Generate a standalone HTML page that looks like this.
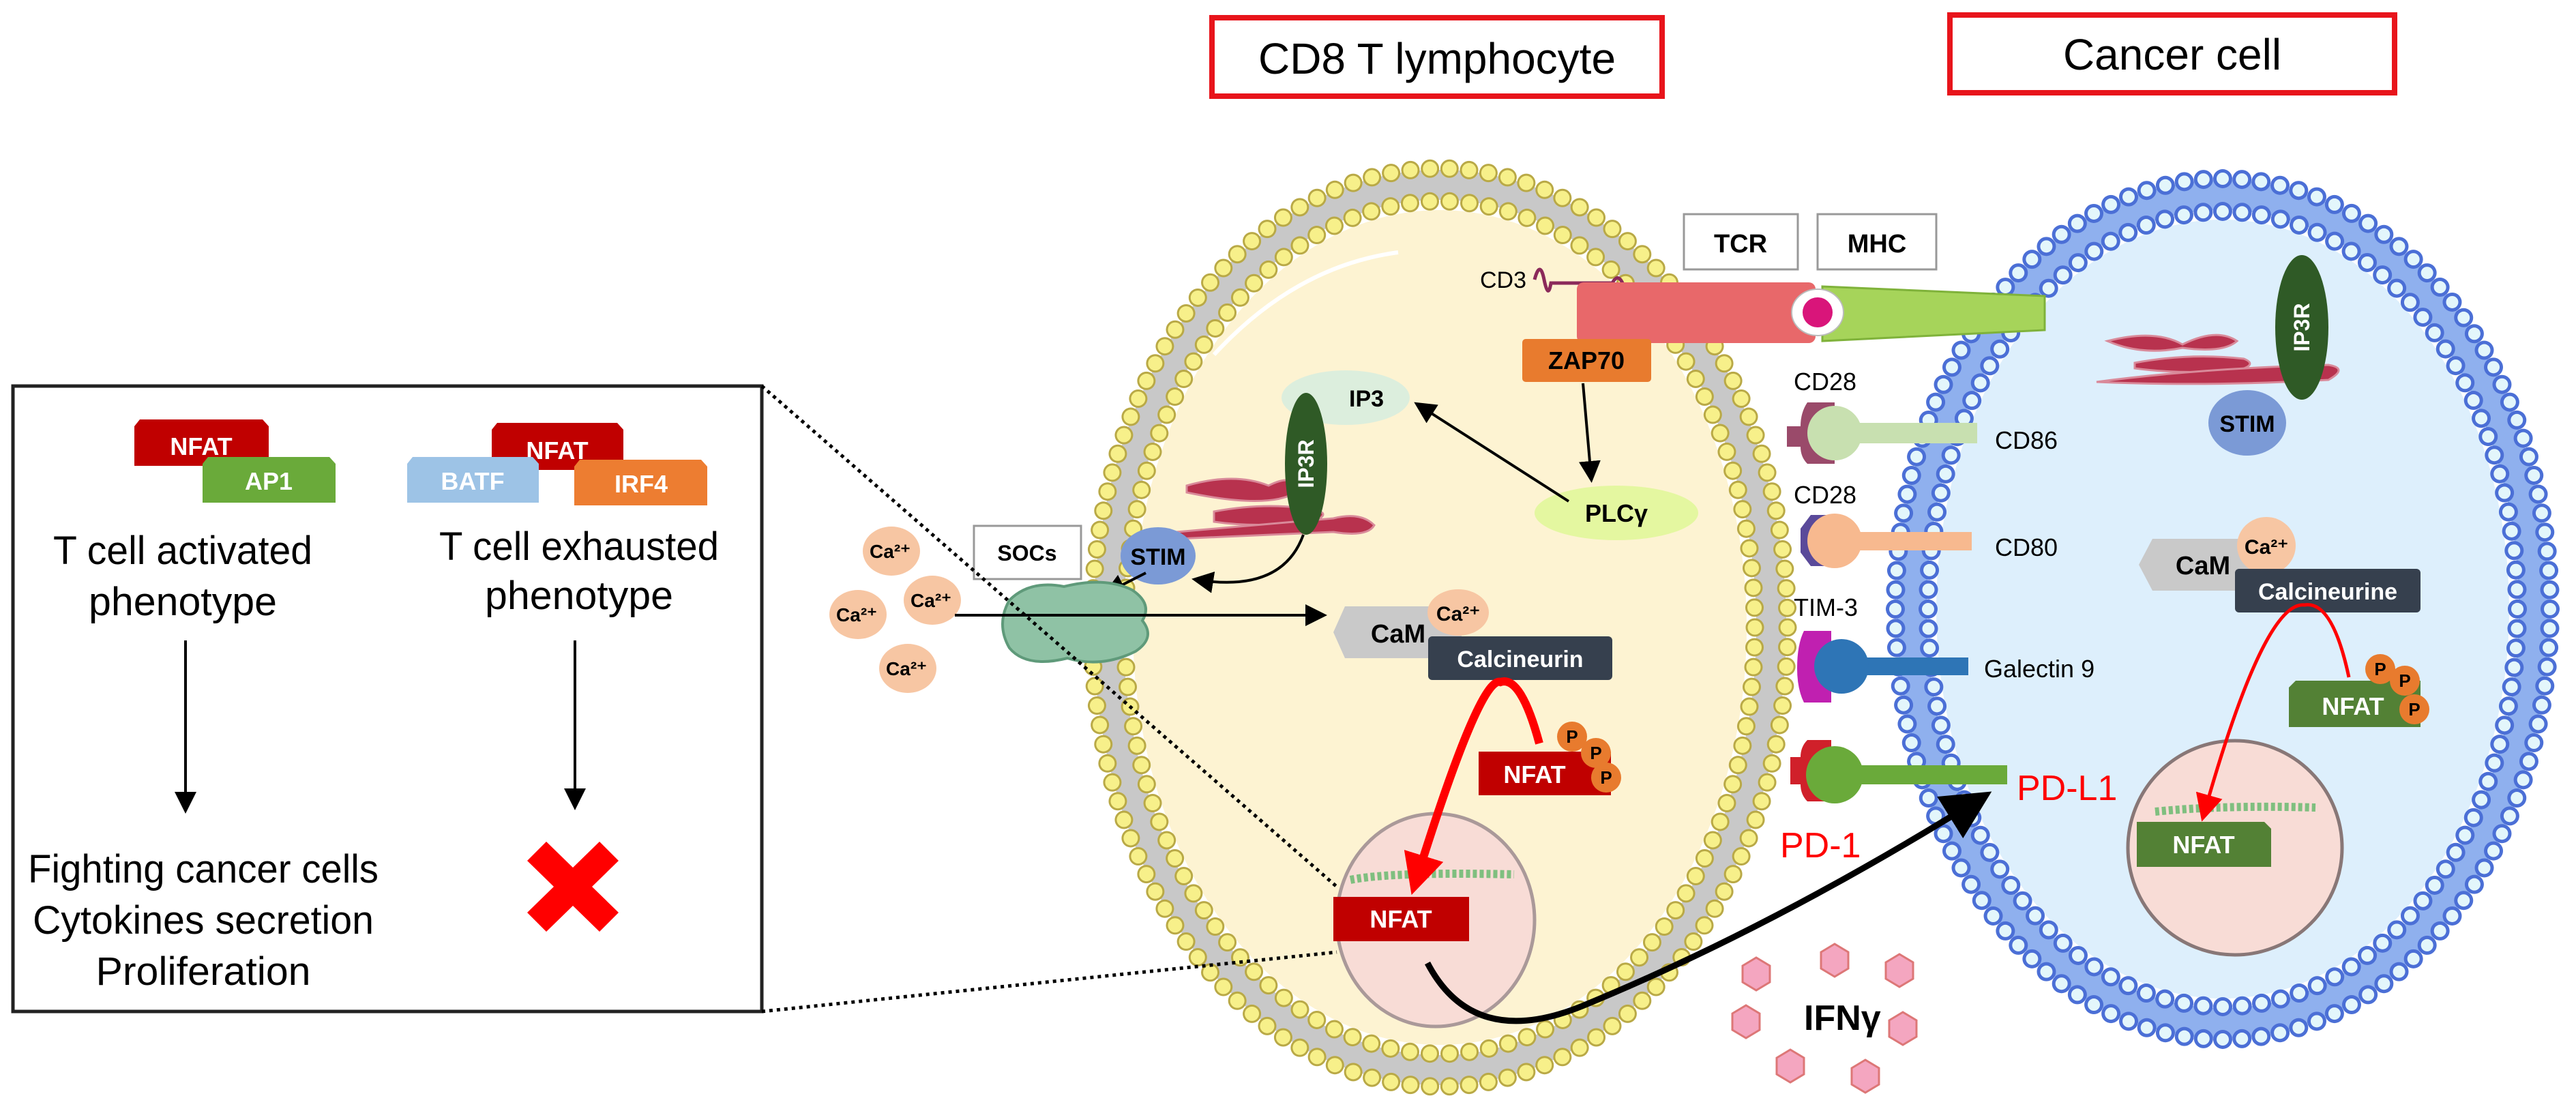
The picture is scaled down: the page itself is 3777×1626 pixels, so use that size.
<!DOCTYPE html>
<html><head><meta charset="utf-8"><style>
html,body{margin:0;padding:0;background:#fff}
svg{display:block}
text{font-family:"Liberation Sans",sans-serif}
</style></head><body>
<svg width="3777" height="1626" viewBox="0 0 3777 1626" xmlns="http://www.w3.org/2000/svg">
<defs>
<marker id="ah" markerWidth="8" markerHeight="8" refX="6" refY="4" orient="auto" markerUnits="strokeWidth"><path d="M0,0 L8,4 L0,8 z" fill="#000"/></marker>
<marker id="ahr" markerWidth="5" markerHeight="5" refX="3.5" refY="2.5" orient="auto" markerUnits="strokeWidth"><path d="M0,0 L5,2.5 L0,5 z" fill="#f00"/></marker>
<marker id="ahr2" markerWidth="8" markerHeight="8" refX="6" refY="4" orient="auto" markerUnits="strokeWidth"><path d="M0,0 L8,4 L0,8 z" fill="#f00"/></marker>
<polygon id="hx" points="-20,-12 0,-24 20,-12 20,12 0,24 -20,12" fill="#f4a6c0" stroke="#d77" stroke-width="3"/>
</defs>

<!-- Titles -->
<rect x="1777" y="26" width="660" height="115" fill="#fff" stroke="#e8141b" stroke-width="8"/>
<text x="2107" y="108" font-size="64" text-anchor="middle">CD8 T lymphocyte</text>
<rect x="2859" y="22" width="652" height="114" fill="#fff" stroke="#e8141b" stroke-width="8"/>
<text x="3185" y="102" font-size="64" text-anchor="middle">Cancer cell</text>

<!-- Left box -->
<rect x="19" y="566" width="1098" height="917" fill="#fff" stroke="#222" stroke-width="5"/>
<path d="M197,625 l8,-10 h180 l9,10 v58 h-197z" fill="#c00000"/>
<text x="295" y="667" font-size="36" font-weight="bold" fill="#fff" text-anchor="middle">NFAT</text>
<path d="M297,680 l8,-10 h178 l9,10 v57 h-195z" fill="#6aaa3a"/>
<text x="394" y="718" font-size="36" font-weight="bold" fill="#fff" text-anchor="middle">AP1</text>
<path d="M721,630 l8,-10 h176 l9,10 v59 h-193z" fill="#c00000"/>
<text x="817" y="673" font-size="36" font-weight="bold" fill="#fff" text-anchor="middle">NFAT</text>
<path d="M597,680 l8,-10 h176 l9,10 v57 h-193z" fill="#9dc3e6"/>
<text x="693" y="718" font-size="36" font-weight="bold" fill="#fff" text-anchor="middle">BATF</text>
<path d="M842,684 l8,-10 h178 l9,10 v57 h-195z" fill="#ed7d31"/>
<text x="940" y="722" font-size="36" font-weight="bold" fill="#fff" text-anchor="middle">IRF4</text>
<text x="268" y="827" font-size="58" text-anchor="middle" textLength="380" lengthAdjust="spacingAndGlyphs">T cell activated</text>
<text x="268" y="902" font-size="58" text-anchor="middle" textLength="276" lengthAdjust="spacingAndGlyphs">phenotype</text>
<text x="849" y="821" font-size="58" text-anchor="middle" textLength="410" lengthAdjust="spacingAndGlyphs">T cell exhausted</text>
<text x="849" y="893" font-size="58" text-anchor="middle" textLength="276" lengthAdjust="spacingAndGlyphs">phenotype</text>
<line x1="272" y1="939" x2="272" y2="1185" stroke="#000" stroke-width="4" marker-end="url(#ah)"/>
<line x1="843" y1="939" x2="843" y2="1180" stroke="#000" stroke-width="4" marker-end="url(#ah)"/>
<text x="298" y="1294" font-size="58" text-anchor="middle" textLength="514" lengthAdjust="spacingAndGlyphs">Fighting cancer cells</text>
<text x="298" y="1369" font-size="58" text-anchor="middle" textLength="500" lengthAdjust="spacingAndGlyphs">Cytokines secretion</text>
<text x="298" y="1444" font-size="58" text-anchor="middle" textLength="315" lengthAdjust="spacingAndGlyphs">Proliferation</text>
<path d="M773,1262 l28,-28 l39,38 l39,-38 l28,28 l-39,38 l39,38 l-28,28 l-39,-38 l-39,38 l-28,-28 l39,-38z" fill="#f00"/>

<!-- T cell -->
<ellipse cx="2111" cy="920" rx="486" ry="649" fill="none" stroke="#c8c8c8" stroke-width="44"/>
<ellipse cx="2111" cy="920" rx="450" ry="612" fill="#fdf3d2"/>
<ellipse cx="2111" cy="920" rx="510" ry="673" fill="none" stroke="#b9a946" stroke-width="27" pathLength="130" stroke-dasharray="0 1" stroke-linecap="round"/>
<ellipse cx="2111" cy="920" rx="510" ry="673" fill="none" stroke="#f7f08a" stroke-width="21" pathLength="130" stroke-dasharray="0 1" stroke-linecap="round"/>
<ellipse cx="2111" cy="920" rx="462" ry="625" fill="none" stroke="#b9a946" stroke-width="27" pathLength="118" stroke-dasharray="0 1" stroke-linecap="round"/>
<ellipse cx="2111" cy="920" rx="462" ry="625" fill="none" stroke="#f7f08a" stroke-width="21" pathLength="118" stroke-dasharray="0 1" stroke-linecap="round"/>
<path d="M1780,520 Q1900,390 2050,370" fill="none" stroke="#fff" stroke-width="6"/>

<!-- Cancer cell -->
<ellipse cx="3259" cy="893" rx="456" ry="607" fill="none" stroke="#8fb0ee" stroke-width="44"/>
<ellipse cx="3259" cy="893" rx="420" ry="571" fill="#ddeffc"/>
<ellipse cx="3259" cy="893" rx="480" ry="631" fill="none" stroke="#4b6fd6" stroke-width="28" pathLength="124" stroke-dasharray="0 1" stroke-linecap="round"/>
<ellipse cx="3259" cy="893" rx="480" ry="631" fill="none" stroke="#e3f6fb" stroke-width="18" pathLength="124" stroke-dasharray="0 1" stroke-linecap="round"/>
<ellipse cx="3259" cy="893" rx="432" ry="583" fill="none" stroke="#4b6fd6" stroke-width="28" pathLength="112" stroke-dasharray="0 1" stroke-linecap="round"/>
<ellipse cx="3259" cy="893" rx="432" ry="583" fill="none" stroke="#e3f6fb" stroke-width="18" pathLength="112" stroke-dasharray="0 1" stroke-linecap="round"/>

<!-- TCR / MHC -->
<rect x="2469" y="314" width="167" height="81" fill="#fff" stroke="#999" stroke-width="3"/>
<text x="2552" y="370" font-size="38" font-weight="bold" text-anchor="middle">TCR</text>
<rect x="2665" y="314" width="174" height="81" fill="#fff" stroke="#999" stroke-width="3"/>
<text x="2752" y="370" font-size="38" font-weight="bold" text-anchor="middle">MHC</text>
<text x="2170" y="422" font-size="34">CD3</text>
<path d="M2250,410 q8,-30 14,0 t10,5 h90 q8,-15 15,0" fill="none" stroke="#8b2a5a" stroke-width="5"/>
<rect x="2312" y="414" width="350" height="89" rx="10" fill="#e8686a"/>
<path d="M2672,420 L2998,434 L2998,484 L2672,500 z" fill="#a6d45a" stroke="#7fb23a" stroke-width="3"/>
<ellipse cx="2665" cy="458" rx="38" ry="34" fill="#fff" stroke="#bbb" stroke-width="2"/>
<circle cx="2665" cy="458" r="22" fill="#d9157a"/>
<rect x="2232" y="497" width="189" height="63" rx="5" fill="#e87b2e"/>
<text x="2326" y="541" font-size="36" font-weight="bold" text-anchor="middle">ZAP70</text>

<!-- IP3 / PLC -->
<ellipse cx="1973" cy="583" rx="94" ry="40" fill="#dceedd"/>
<text x="1978" y="596" font-size="34" font-weight="bold">IP3</text>
<ellipse cx="2370" cy="752" rx="120" ry="40" fill="#e4f7a0"/>
<text x="2370" y="765" font-size="36" font-weight="bold" text-anchor="middle">PLCγ</text>
<line x1="2321" y1="562" x2="2333" y2="700" stroke="#000" stroke-width="4" marker-end="url(#ah)"/>
<line x1="2300" y1="735" x2="2080" y2="594" stroke="#000" stroke-width="4" marker-end="url(#ah)"/>

<!-- ER T cell -->
<g fill="#b8324e" stroke="#d98a9a" stroke-width="3">
<path d="M1740,712 q70,-20 120,0 q40,-20 40,10 q-40,25 -160,0z"/>
<path d="M1780,750 q80,-15 150,-2 q20,5 0,15 q-80,12 -150,2z"/>
<path d="M1725,780 q120,-10 230,-20 q40,-10 60,10 q-10,18 -60,10 q-120,5 -230,10z"/>
</g>
<ellipse cx="1915" cy="680" rx="31" ry="104" fill="#2f5a26"/>
<text x="1915" y="680" font-size="32" font-weight="bold" fill="#fff" text-anchor="middle" transform="rotate(-90 1915 680)" dy="11">IP3R</text>
<ellipse cx="1698" cy="815" rx="55" ry="42" fill="#7b9ad6"/>
<text x="1698" y="828" font-size="34" font-weight="bold" text-anchor="middle">STIM</text>
<path d="M1911,784 Q1880,870 1755,850" fill="none" stroke="#000" stroke-width="4" marker-end="url(#ah)"/>
<line x1="1680" y1="840" x2="1625" y2="868" stroke="#000" stroke-width="4" marker-end="url(#ah)"/>

<!-- SOCs, Ca -->
<rect x="1428" y="771" width="157" height="78" fill="#fff" stroke="#999" stroke-width="3"/>
<text x="1506" y="822" font-size="32" font-weight="bold" text-anchor="middle">SOCs</text>
<path d="M1480,880 q30,-30 80,-20 q60,-15 100,5 q30,20 15,45 q20,25 -10,45 q-50,25 -100,10 q-60,15 -85,-15 q-20,-35 0,-70z" fill="#8fc2a5" stroke="#5f9a7a" stroke-width="4"/>
<g fill="#f7c6a3">
<ellipse cx="1307" cy="808" rx="42" ry="36"/><ellipse cx="1367" cy="880" rx="42" ry="36"/>
<ellipse cx="1258" cy="901" rx="42" ry="36"/><ellipse cx="1331" cy="980" rx="42" ry="36"/>
</g>
<g font-size="28" font-weight="bold" text-anchor="middle">
<text x="1305" y="818">Ca²⁺</text><text x="1365" y="890">Ca²⁺</text><text x="1256" y="911">Ca²⁺</text><text x="1329" y="990">Ca²⁺</text>
</g>
<line x1="1400" y1="902" x2="1938" y2="902" stroke="#000" stroke-width="4" marker-end="url(#ah)"/>

<!-- CaM / calcineurin T -->
<path d="M1972,889 H2143 V965 H1972 L1955,927z" fill="#c9c9c9"/>
<text x="2050" y="942" font-size="38" font-weight="bold" text-anchor="middle">CaM</text>
<ellipse cx="2138" cy="898" rx="45" ry="34" fill="#f7c6a3"/>
<text x="2138" y="910" font-size="30" font-weight="bold" text-anchor="middle">Ca²⁺</text>
<rect x="2094" y="933" width="270" height="64" rx="6" fill="#36404e"/>
<text x="2229" y="978" font-size="34" font-weight="bold" fill="#fff" text-anchor="middle">Calcineurin</text>

<!-- Nucleus T -->
<ellipse cx="2105" cy="1349" rx="145" ry="156" fill="#f8dcd6" stroke="#a99" stroke-width="5"/>
<path d="M1980,1290 q60,-12 240,-8" stroke="#7fbf7f" stroke-width="12" stroke-dasharray="6 4" fill="none"/>
<rect x="1955" y="1315" width="199" height="65" fill="#c00000"/>
<text x="2054" y="1360" font-size="36" font-weight="bold" fill="#fff" text-anchor="middle">NFAT</text>

<rect x="2168" y="1102" width="194" height="64" fill="#c00000"/>
<text x="2250" y="1148" font-size="36" font-weight="bold" fill="#fff" text-anchor="middle">NFAT</text>
<g fill="#e87b2e"><circle cx="2305" cy="1080" r="22"/><circle cx="2340" cy="1104" r="22"/><circle cx="2355" cy="1140" r="22"/></g>
<g font-size="26" font-weight="bold" text-anchor="middle"><text x="2305" y="1089">P</text><text x="2340" y="1113">P</text><text x="2355" y="1149">P</text></g>
<path d="M2257,1090 Q2230,990 2200,1000 Q2170,990 2075,1295" fill="none" stroke="#f00" stroke-width="12" marker-end="url(#ahr)"/>

<!-- receptors -->
<g font-size="36">
<text x="2630" y="572">CD28</text><text x="2630" y="738">CD28</text><text x="2630" y="903">TIM-3</text>
<text x="2925" y="658">CD86</text><text x="2925" y="815">CD80</text><text x="2909" y="993">Galectin 9</text>
</g>
<path d="M2650,590 h40 v90 h-40 q-10,-10 -10,-25 h-20 v-30 h20 q0,-20 10,-35z" fill="#9a4a6a"/>
<rect x="2680" y="620" width="219" height="30" fill="#c8e0b0"/>
<circle cx="2690" cy="635" r="40" fill="#c8e0b0"/>
<path d="M2655,755 h35 v75 h-35 l-15,-20 v-35z" fill="#5a4a9a"/>
<rect x="2680" y="780" width="211" height="27" fill="#f7b98f"/>
<circle cx="2690" cy="793" r="40" fill="#f7b98f"/>
<path d="M2645,925 h40 v105 h-40 q-10,-20 -10,-50 q0,-35 10,-55z" fill="#c020b0"/>
<rect x="2690" y="964" width="196" height="26" fill="#2e75b6"/>
<circle cx="2700" cy="977" r="40" fill="#2e75b6"/>
<path d="M2650,1085 h35 v90 h-35 q-10,-10 -10,-25 h-15 v-40 h15 q0,-15 10,-25z" fill="#d0202a"/>
<rect x="2680" y="1122" width="263" height="28" fill="#6aaa3a"/>
<circle cx="2690" cy="1136" r="42" fill="#6aaa3a"/>
<text x="2957" y="1173" font-size="52" fill="#f00">PD-L1</text>
<text x="2610" y="1257" font-size="52" fill="#f00">PD-1</text>

<!-- black curved arrow -->
<path d="M2093,1412 Q2160,1540 2320,1475 Q2600,1360 2905,1170" fill="none" stroke="#000" stroke-width="9" marker-end="url(#ah)"/>

<!-- IFN -->
<use href="#hx" x="2575" y="1428"/>
<use href="#hx" x="2690" y="1408"/>
<use href="#hx" x="2785" y="1423"/>
<use href="#hx" x="2560" y="1498"/>
<use href="#hx" x="2790" y="1508"/>
<use href="#hx" x="2625" y="1563"/>
<use href="#hx" x="2735" y="1578"/>
<text x="2645" y="1510" font-size="52" font-weight="bold">IFNγ</text>

<!-- Cancer internals -->
<g fill="#b8324e" stroke="#d98a9a" stroke-width="3">
<path d="M3090,500 q70,-18 110,5 q50,-25 80,-5 q-20,18 -80,10 q-60,12 -110,-10z"/>
<path d="M3130,532 q80,-15 160,-6 q20,8 -5,16 q-80,8 -155,-2z"/>
<path d="M3074,560 q150,-20 340,-25 q30,5 0,22 q-180,10 -340,3z"/>
</g>
<ellipse cx="3375" cy="480" rx="39" ry="106" fill="#2f5a26"/>
<text x="3375" y="480" font-size="32" font-weight="bold" fill="#fff" text-anchor="middle" transform="rotate(-90 3375 480)" dy="11">IP3R</text>
<ellipse cx="3295" cy="620" rx="57" ry="48" fill="#7b9ad6"/>
<text x="3295" y="633" font-size="34" font-weight="bold" text-anchor="middle">STIM</text>
<path d="M3156,790 H3310 V866 H3156 L3136,828z" fill="#c9c9c9"/>
<text x="3230" y="842" font-size="38" font-weight="bold" text-anchor="middle">CaM</text>
<ellipse cx="3323" cy="800" rx="43" ry="42" fill="#f7c6a3"/>
<text x="3323" y="812" font-size="30" font-weight="bold" text-anchor="middle">Ca²⁺</text>
<rect x="3277" y="834" width="272" height="64" rx="6" fill="#36404e"/>
<text x="3413" y="879" font-size="34" font-weight="bold" fill="#fff" text-anchor="middle">Calcineurine</text>
<ellipse cx="3277" cy="1243" rx="157" ry="157" fill="#f8dcd6" stroke="#877" stroke-width="5"/>
<path d="M3160,1190 q100,-10 235,-6" stroke="#7fbf7f" stroke-width="12" stroke-dasharray="6 4" fill="none"/>
<path d="M3133,1205 H3320 L3330,1215 V1271 H3133z" fill="#538135"/>
<text x="3231" y="1251" font-size="36" font-weight="bold" fill="#fff" text-anchor="middle">NFAT</text>
<path d="M3356,1008 l10,-10 H3549 V1066 H3356z" fill="#538135"/>
<text x="3450" y="1048" font-size="36" font-weight="bold" fill="#fff" text-anchor="middle">NFAT</text>
<g fill="#e87b2e"><circle cx="3490" cy="981" r="22"/><circle cx="3526" cy="998" r="22"/><circle cx="3540" cy="1040" r="22"/></g>
<g font-size="26" font-weight="bold" text-anchor="middle"><text x="3490" y="990">P</text><text x="3526" y="1007">P</text><text x="3540" y="1049">P</text></g>
<path d="M3444,993 Q3420,880 3379,887 Q3320,880 3231,1195" fill="none" stroke="#f00" stroke-width="5" marker-end="url(#ahr2)"/>

<!-- dotted zoom lines -->
<line x1="1117" y1="566" x2="1960" y2="1300" stroke="#000" stroke-width="5" stroke-dasharray="5 6"/>
<line x1="1117" y1="1483" x2="1960" y2="1396" stroke="#000" stroke-width="5" stroke-dasharray="5 6"/>
</svg>
</body></html>
